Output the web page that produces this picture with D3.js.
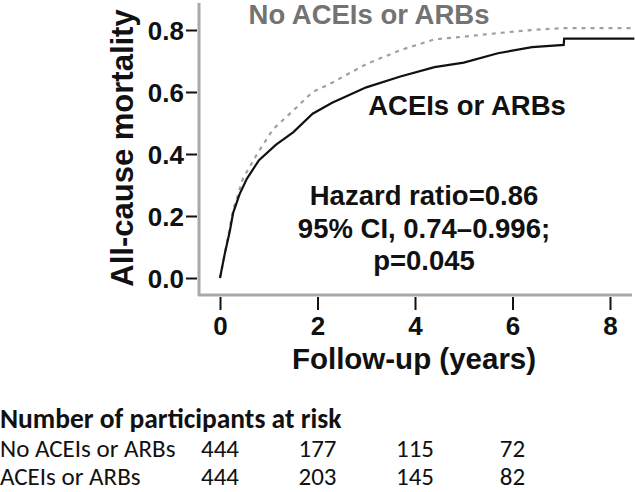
<!DOCTYPE html>
<html>
<head>
<meta charset="utf-8">
<script src="https://cdn.jsdelivr.net/npm/d3@7"></script>
<style>
  body { margin: 0; background: #fff; }
  svg { display: block; }
  .ax text { font-family: "Liberation Sans", Arial, sans-serif; font-weight: bold; }
</style>
</head>
<body>
<script>
'use strict'

// Kaplan-Meier style curves (years, cumulative mortality)
const treatedT = [0, 0.05, 0.1, 0.2, 0.27, 0.4, 0.55, 0.8, 1.15, 1.5, 1.9, 2.3, 3.0, 3.7, 4.4, 5.0, 5.7, 6.4, 7.05, 7.06, 8.5]
const treatedV = [0, 0.04, 0.08, 0.15, 0.21, 0.27, 0.32, 0.38, 0.43, 0.47, 0.53, 0.565, 0.615, 0.65, 0.68, 0.695, 0.725, 0.745, 0.752, 0.772, 0.772]
const controlT = [0, 0.05, 0.1, 0.27, 0.47, 0.76, 1.09, 1.5, 1.9, 2.3, 3.0, 3.7, 4.4, 5.1, 5.7, 6.4, 7.0, 8.5]
const controlV = [0, 0.04, 0.08, 0.22, 0.32, 0.40, 0.48, 0.54, 0.60, 0.63, 0.69, 0.735, 0.77, 0.78, 0.79, 0.80, 0.806, 0.806]

const xTicks = [0, 2, 4, 6, 8]
const yTicks = [0, 0.2, 0.4, 0.6, 0.8]

const riskTimes = [0, 2, 4, 6]
const riskGroups = ['No ACEIs or ARBs', 'ACEIs or ARBs']
const riskControl = [444, 177, 115, 72]
const riskTreated = [444, 203, 145, 82]

const statLines = ['Hazard ratio=0.86', '95% CI, 0.74\u20130.996;', 'p=0.045']

const W = 635, H = 492
const sans = '"Liberation Sans", Arial, sans-serif'

const svg = d3.select('body').append('svg')
  .attr('width', W)
  .attr('height', H)

const x = d3.scaleLinear().domain([0, 8]).range([220, 610])
const y = d3.scaleLinear().domain([0, 0.8]).range([278, 30])

// gray frame lines
svg.append('line')
  .attr('x1', 199).attr('x2', 199).attr('y1', 3).attr('y2', 296)
  .attr('stroke', '#a9a9a9').attr('stroke-width', 3)
svg.append('line')
  .attr('x1', 198).attr('x2', 632).attr('y1', 295).attr('y2', 295)
  .attr('stroke', '#a9a9a9').attr('stroke-width', 3)

const yAxis = svg.append('g')
  .attr('class', 'ax')
  .attr('transform', 'translate(197,0)')
  .call(d3.axisLeft(y).tickValues(yTicks).tickFormat(d3.format('.1f')).tickSize(11).tickSizeOuter(0))
yAxis.select('.domain').remove()
yAxis.selectAll('.tick line').attr('stroke', '#111').attr('stroke-width', 2)
yAxis.selectAll('.tick text')
  .attr('x', -13).attr('dy', '0.36em')
  .attr('font-size', 26).attr('fill', '#111')

const xAxis = svg.append('g')
  .attr('class', 'ax')
  .attr('transform', 'translate(0,297)')
  .call(d3.axisBottom(x).tickValues(xTicks).tickFormat(d3.format('d')).tickSize(13).tickSizeOuter(0))
xAxis.select('.domain').remove()
xAxis.selectAll('.tick line').attr('stroke', '#111').attr('stroke-width', 2)
xAxis.selectAll('.tick text')
  .attr('y', 38).attr('dy', 0)
  .attr('font-size', 26).attr('fill', '#111')

// axis titles
svg.append('text')
  .attr('transform', 'translate(133,148) rotate(-90)')
  .attr('text-anchor', 'middle')
  .attr('font-family', sans)
  .attr('font-weight', 'bold')
  .attr('font-size', 31)
  .attr('fill', '#111')
  .text('All-cause mortality')

svg.append('text')
  .attr('x', 414).attr('y', 369)
  .attr('text-anchor', 'middle')
  .attr('font-family', sans)
  .attr('font-weight', 'bold')
  .attr('font-size', 29.5)
  .attr('fill', '#111')
  .text('Follow-up (years)')

// curves
const line = d3.line()
  .x(d => x(d[0]))
  .y(d => y(d[1]))

const control = d3.zip(controlT, controlV)
const treated = d3.zip(treatedT, treatedV)

svg.append('path')
  .datum(control)
  .attr('d', line)
  .attr('fill', 'none')
  .attr('stroke', '#a0a0a0')
  .attr('stroke-width', 2.2)
  .attr('stroke-dasharray', '4,5')

svg.append('path')
  .datum(treated)
  .attr('d', line)
  .attr('fill', 'none')
  .attr('stroke', '#111')
  .attr('stroke-width', 2.2)

// curve labels
svg.append('text')
  .attr('x', 369).attr('y', 24)
  .attr('text-anchor', 'middle')
  .attr('font-family', sans)
  .attr('font-weight', 'bold')
  .attr('font-size', 27.5)
  .attr('fill', '#737373')
  .text('No ACEIs or ARBs')

svg.append('text')
  .attr('x', 467).attr('y', 115)
  .attr('text-anchor', 'middle')
  .attr('font-family', sans)
  .attr('font-weight', 'bold')
  .attr('font-size', 27.5)
  .attr('fill', '#111')
  .text('ACEIs or ARBs')

svg.append('g')
  .selectAll('text')
  .data(statLines)
  .enter()
  .append('text')
  .attr('x', 424)
  .attr('y', (d, i) => 205 + i * 32.5)
  .attr('text-anchor', 'middle')
  .attr('font-family', sans)
  .attr('font-weight', 'bold')
  .attr('font-size', 27.5)
  .attr('fill', '#111')
  .text(d => d)

// number at risk table
const tbl = svg.append('g')
  .attr('font-family', 'Carlito, Lato, "Noto Sans", sans-serif')
  .attr('fill', '#111')

tbl.append('text')
  .attr('x', 0).attr('y', 428)
  .attr('font-size', 27.5)
  .attr('font-weight', 'bold')
  .text('Number of participants at risk')

const rows = [riskControl, riskTreated]
rows.forEach((vals, r) => {
  const ry = 457 + r * 28
  tbl.append('text')
    .attr('x', 0).attr('y', ry)
    .attr('font-size', 25)
    .text(riskGroups[r])
  tbl.append('g')
    .selectAll('text')
    .data(vals)
    .enter()
    .append('text')
    .attr('x', (d, i) => x(riskTimes[i]))
    .attr('y', ry)
    .attr('text-anchor', 'middle')
    .attr('font-size', 25)
    .text(d => d)
})
</script>
</body>
</html>
